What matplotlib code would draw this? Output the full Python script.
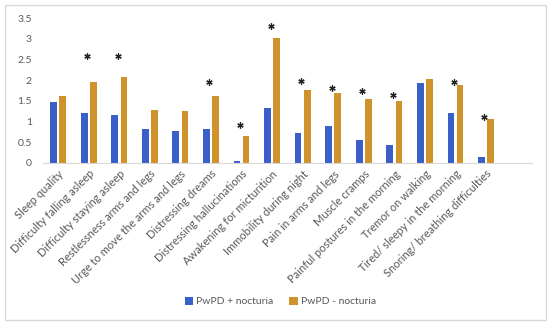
import numpy as np
import matplotlib.pyplot as plt
from matplotlib.patches import Rectangle

# dados
categorias = ['Sleep quality', 'Difficulty falling asleep', 'Difficulty staying asleep',
              'Restlessness arms and legs', 'Urge to move the arms and legs',
              'Distressing dreams', 'Distressing hallucinations', 'Awakening for micturition',
              'Immobility during night', 'Pain in arms and legs', 'Muscle cramps',
              'Painful postures in the morning', 'Tremor on walking',
              'Tired/ sleepy in the morning', 'Snoring/ breathing difficulties']
com_nocturia = [1.48, 1.20, 1.15, 0.82, 0.76, 0.82, 0.04, 1.32,
                0.71, 0.88, 0.54, 0.43, 1.93, 1.20, 0.15]
sem_nocturia = [1.62, 1.96, 2.08, 1.28, 1.26, 1.62, 0.64, 3.03,
                1.76, 1.70, 1.55, 1.49, 2.04, 1.88, 1.05]
# asteriscos (indice da categoria, altura)
asterisco_idx = [1, 2, 5, 6, 7, 8, 9, 10, 11, 13, 14]
asterisco_y = [2.59, 2.59, 1.96, 0.92, 3.31, 1.98, 1.82, 1.74, 1.63, 1.96, 1.11]

plt.rcParams['font.family'] = ['Lato', 'DejaVu Sans']
cinza = '#595959'

fig = plt.figure(figsize=(5.5, 3.25), dpi=100)
ax = fig.add_axes([0.078, 0.4994, 0.889, 0.4443])

x = np.arange(len(categorias))
ax.bar(x - 0.15, com_nocturia, 0.22, color='#3A5FC8', label='PwPD + nocturia')
ax.bar(x + 0.15, sem_nocturia, 0.22, color='#D0922B', label='PwPD - nocturia')
ax.plot(np.array(asterisco_idx) - 0.05, asterisco_y, linestyle='none',
        marker=(6, 2, 0), markersize=4.5, markeredgewidth=0.9, color='#222222')

ax.set_xlim(-0.5, 15.5)
ax.set_ylim(0, 3.5)
ax.set_yticks(np.arange(0, 3.51, 0.5))
ax.set_yticklabels(['0', '0.5', '1', '1.5', '2', '2.5', '3', '3.5'])
ax.set_xticks(x)
ax.set_xticklabels(categorias, rotation=45, ha='right', va='top', rotation_mode='anchor')
ax.tick_params(axis='both', length=0, colors=cinza)
ax.tick_params(axis='y', pad=8, labelsize=7.5)
ax.tick_params(axis='x', pad=4, labelsize=8)
for lado in ['top', 'right', 'left']:
    ax.spines[lado].set_visible(False)
ax.spines['bottom'].set_color('#D9D9D9')

fig.legend(loc='center', bbox_to_anchor=(0.51, 0.072), ncol=2, frameon=False,
           fontsize=7.5, handlelength=0.8, handleheight=0.8, handletextpad=0.3,
           columnspacing=1.5, labelcolor=cinza)

fig.patches.append(Rectangle((5 / 550, 5 / 325), 541 / 550, 315 / 325, transform=fig.transFigure,
                             fill=False, edgecolor='#D9D9D9', linewidth=1))

fig.savefig('out.png', dpi=100)
